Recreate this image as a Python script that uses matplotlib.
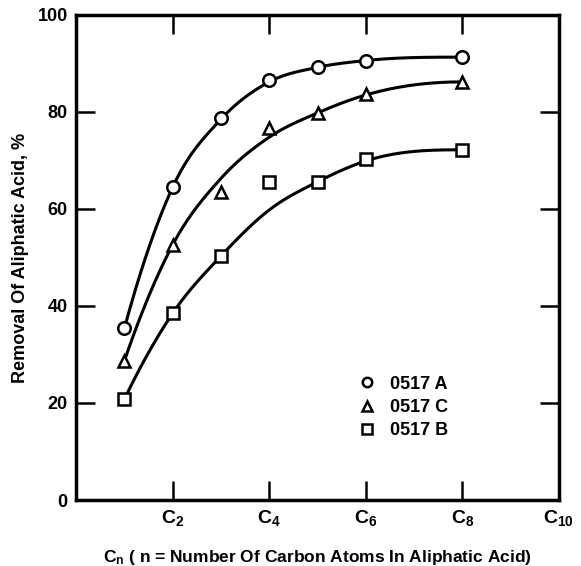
import numpy as np
from matplotlib import pyplot as plt

# carbon number of the acid
carbons = [1, 2, 3, 4, 5, 6, 8]

# measured removal, %
removal_a = [35.4, 64.5, 78.7, 86.5, 89.3, 90.6, 91.3]
removal_c = [28.7, 52.6, 63.5, 76.7, 79.8, 83.7, 86.2]
removal_b = [20.8, 38.5, 50.3, 65.6, 65.6, 70.4, 72.2]

# hand drawn curves at the same carbon numbers
curve_a = [35.4, 64.5, 78.5, 86.2, 89.2, 90.6, 91.3]
curve_c = [28.7, 52.6, 66.3, 74.8, 79.8, 83.5, 86.2]
curve_b = [20.8, 38.5, 50.3, 59.8, 65.6, 69.9, 72.2]

xticks = [2, 4, 6, 8, 10]
xticklabels = ['C$_2$', 'C$_4$', 'C$_6$', 'C$_8$', 'C$_{10}$']
yticks = [0, 20, 40, 60, 80, 100]


def smooth(x, y, n=200):
    # cubic hermite through the read points, slopes = mean of neighbour secants
    x = np.asarray(x, float)
    y = np.asarray(y, float)
    h = np.diff(x)
    d = np.diff(y) / h
    m = np.zeros_like(y)
    for i in range(1, len(x) - 1):
        m[i] = (h[i] * d[i - 1] + h[i - 1] * d[i]) / (h[i] + h[i - 1])
    # quadratic ends so the curve does not wiggle at the first point
    m[0] = 2 * d[0] - m[1]
    m[-1] = max(0.0, 2 * d[-1] - m[-2])
    xs = np.linspace(x[0], x[-1], n)
    k = np.clip(np.searchsorted(x, xs) - 1, 0, len(x) - 2)
    t = (xs - x[k]) / h[k]
    h00 = 2 * t**3 - 3 * t**2 + 1
    h10 = t**3 - 2 * t**2 + t
    h01 = -2 * t**3 + 3 * t**2
    h11 = t**3 - t**2
    ys = h00 * y[k] + h10 * h[k] * m[k] + h01 * y[k + 1] + h11 * h[k] * m[k + 1]
    return xs, ys


plt.rcParams['font.family'] = ['Liberation Sans', 'DejaVu Sans']
plt.rcParams['font.weight'] = 'bold'
plt.rcParams['mathtext.default'] = 'regular'

fig = plt.figure(figsize=(5.81, 5.66), dpi=100)
ax = fig.add_axes([0.131, 0.1166, 0.831, 0.857])

for cy in [curve_a, curve_c, curve_b]:
    xs, ys = smooth(carbons, cy)
    ax.plot(xs, ys, color='black', lw=2.2, zorder=2)

mk = dict(ls='none', mfc='white', mec='black', ms=9, mew=1.8, zorder=3)
ax.plot(carbons, removal_a, marker='o', label='0517 A', **mk)
ax.plot(carbons, removal_c, marker='^', label='0517 C', **mk)
ax.plot(carbons, removal_b, marker='s', label='0517 B', **mk)

ax.set_xlim(0, 10)
ax.set_ylim(0, 100)
ax.set_xticks(xticks)
ax.set_xticklabels(xticklabels, fontsize=14, fontweight='bold')
ax.set_yticks(yticks)
ax.set_yticklabels([str(v) for v in yticks], fontsize=13, fontweight='bold')
ax.tick_params(direction='in', length=14, width=1.8, top=True, right=True, pad=6)
for s in ax.spines.values():
    s.set_linewidth(2.5)

ax.set_ylabel('Removal Of Aliphatic Acid, %', fontsize=13, fontweight='bold', labelpad=6)
ax.set_xlabel('C$_n$ ( n = Number Of Carbon Atoms In Aliphatic Acid)', fontsize=12.5,
              fontweight='bold', labelpad=14)

ax.legend(loc='upper left', bbox_to_anchor=(0.55, 0.29), frameon=False, fontsize=13,
          markerscale=0.75, handlelength=1.0, handletextpad=0.8, labelspacing=0.35)

plt.savefig('out.png', dpi=100)
